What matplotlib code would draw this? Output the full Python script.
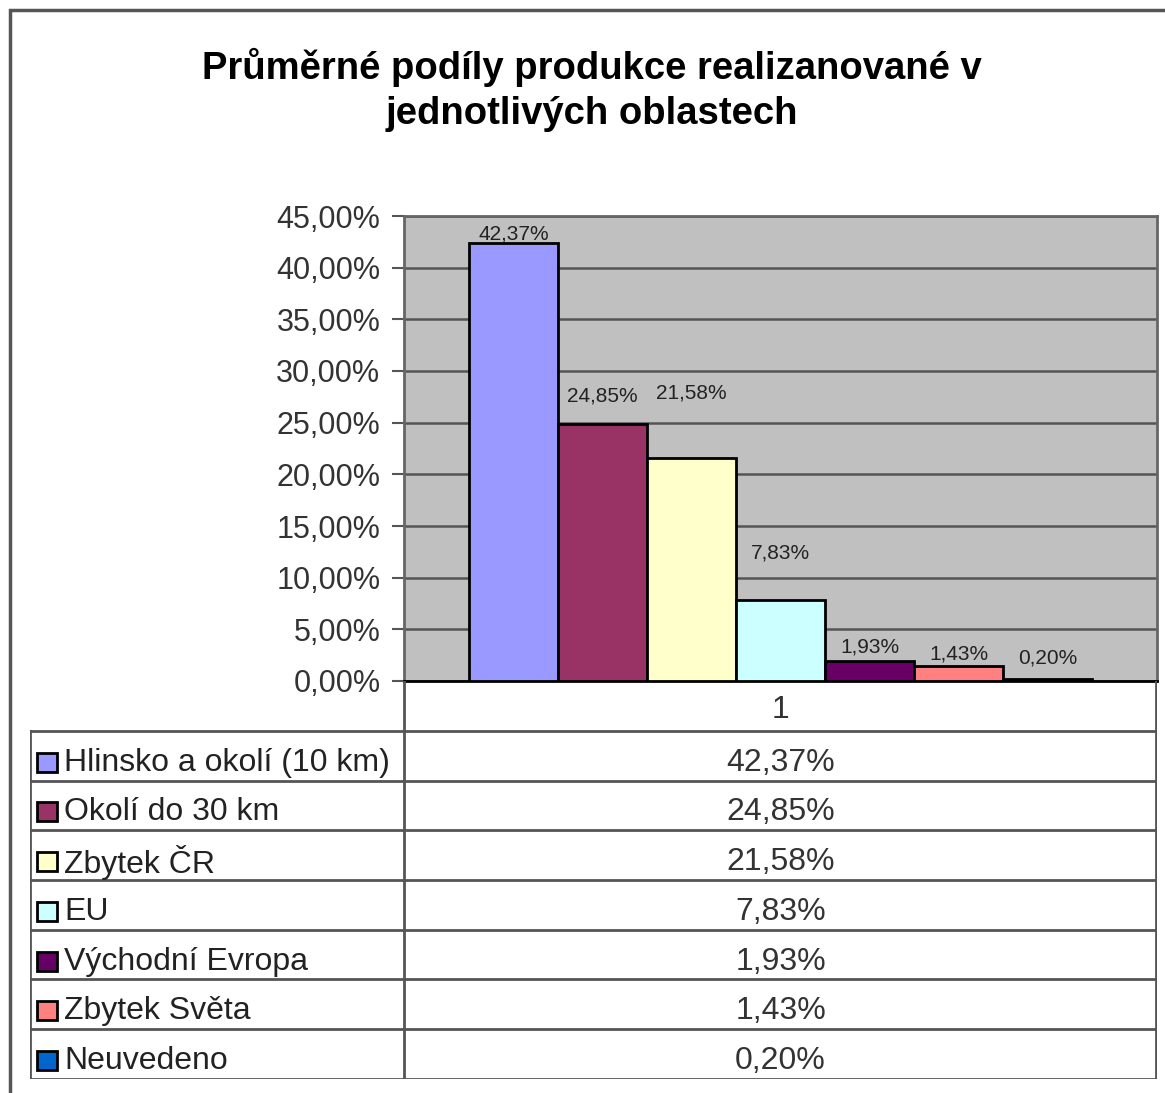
import matplotlib.pyplot as plt
from matplotlib.patches import Rectangle
from matplotlib.lines import Line2D

plt.rcParams['font.family'] = ['Liberation Sans', 'DejaVu Sans']

# data
categories = ['Hlinsko a okolí (10 km)', 'Okolí do 30 km', 'Zbytek ČR', 'EU',
              'Východní Evropa', 'Zbytek Světa', 'Neuvedeno']
values = [42.37, 24.85, 21.58, 7.83, 1.93, 1.43, 0.20]
colors = ['#9999FF', '#993366', '#FFFFCC', '#CCFFFF', '#660066', '#FF8080', '#0066CC']
yticks = [0, 5, 10, 15, 20, 25, 30, 35, 40, 45]
group_label = '1'

# label lift above bar tops in px (Excel placed them unevenly)
label_dy = [9, 28, 65, 47, 14, 12, 21]

W, H = 1165, 1093
fig = plt.figure(figsize=(W / 100, H / 100), dpi=100)


def fx(px):
    return px / W


def fy(py):
    return 1 - py / H


def pct(v):
    return f'{v:.2f}'.replace('.', ',') + '%'


# outer chart frame
fig.patches.append(Rectangle((fx(10), fy(1100)), fx(1200), fy(10) - fy(1100),
                             transform=fig.transFigure, fill=False,
                             edgecolor='#555555', linewidth=2.5))

fig.text(fx(592), fy(90), 'Průměrné podíly produkce realizanované v\njednotlivých oblastech',
         ha='center', va='center', fontsize=27.5, fontweight='bold', linespacing=1.35)

# plot area
pl, pr, pt, pb = 404, 1157, 216, 681
ax = fig.add_axes([fx(pl), fy(pb), fx(pr - pl), fy(pt) - fy(pb)])
ax.set_facecolor('#C0C0C0')
n = len(values)
bw = 89 / (pr - pl)
start = (1 - n * bw) / 2
xs = [start + bw * (i + 0.5) for i in range(n)]
ax.bar(xs, values, width=bw, color=colors, edgecolor='black', linewidth=2, zorder=3)
for x, v, d in zip(xs, values, label_dy):
    ax.annotate(pct(v), (x, v), xytext=(0, d * 0.72), textcoords='offset points',
                ha='center', va='center', fontsize=15, color='#222222', zorder=4)
ax.set_xlim(0, 1)
ax.set_ylim(0, 45)
ax.set_yticks(yticks)
ax.set_yticklabels([pct(t) for t in yticks], fontsize=22, color='#333333')
ax.set_xticks([])
ax.yaxis.grid(True, color='#555555', linewidth=1.8, zorder=0)
ax.set_axisbelow(True)
ax.tick_params(axis='y', length=9, width=1.5, color='#555555', pad=8)
for s in ['left', 'right', 'top']:
    ax.spines[s].set_color('#666666')
    ax.spines[s].set_linewidth(2)
ax.spines['bottom'].set_color('black')
ax.spines['bottom'].set_linewidth(2)

# data table below
tl, tr, tt, tb = 30, 1157, 681, 1079
div = 404
tax = fig.add_axes([fx(tl), fy(tb), fx(tr - tl), fy(tt) - fy(tb)])
tax.set_xlim(tl, tr)
rows = n + 1
tax.set_ylim(rows, 0)
tax.axis('off')
lc = '#555555'
# header row (category)
tax.add_line(Line2D([div, div], [0, rows], color=lc, lw=2))
tax.add_line(Line2D([tr - 1, tr - 1], [0, rows], color=lc, lw=2))
tax.add_line(Line2D([tl, tl], [1, rows], color=lc, lw=2))
tax.text((div + tr) / 2, 0.58, group_label, ha='center', va='center', fontsize=23, color='#333333')
for i in range(1, rows + 1):
    tax.add_line(Line2D([tl, tr], [i, i], color=lc, lw=2))
for i, (c, v, col) in enumerate(zip(categories, values, colors)):
    y = i + 1.5
    tax.add_patch(Rectangle((37, y - 0.06), 20, 0.38, facecolor=col,
                            edgecolor='black', linewidth=2))
    tax.text(64, y + 0.14, c, ha='left', va='center', fontsize=23, color='#222222')
    tax.text((div + tr) / 2, y + 0.14, pct(v), ha='center', va='center', fontsize=23,
             color='#333333')

fig.savefig('out.png', dpi=100)
